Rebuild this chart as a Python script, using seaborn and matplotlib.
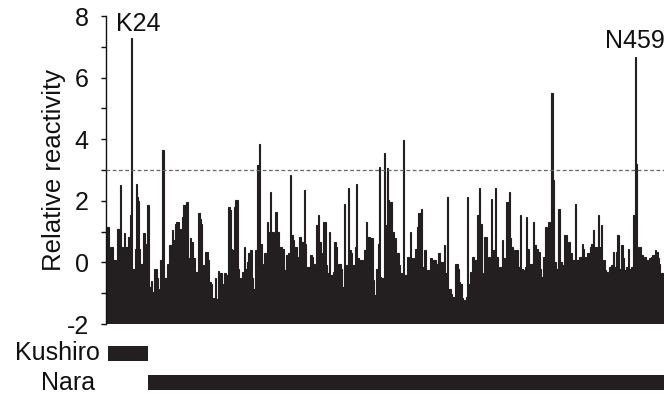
import matplotlib
matplotlib.use("Agg")
import matplotlib.pyplot as plt
import pandas as pd
import seaborn as sns
from matplotlib.ticker import MultipleLocator

# Relative reactivity per residue (residue 1 onward)
reactivity = [
    0.34, 0.34, 1.15, 1.15, 0.34, 0.50, 0.50, 0.07, 0.07, 0.07,
    0.05, 1.10, 1.10, 2.50, 0.50, 0.50, 0.30, 0.94, 0.50, 0.50,
    0.83, 0.83, 1.53, 7.30, -0.20, -0.20, 0.45, 2.56, 2.13, 2.00,
    0.45, -0.04, -0.04, 0.94, 0.94, 0.61, -0.15, 1.86, -0.79, -0.79,
    -0.60, -0.96, -0.96, -0.20, -0.20, -0.50, -0.85, -0.90, 0.07, 0.07,
    3.64, -0.52, -0.52, -0.50, -0.04, -0.04, 0.56, 0.56, 1.05, 0.72,
    0.72, 1.26, 1.32, 1.32, 0.50, 1.10, 1.10, 1.48, 1.86, 1.86,
    1.96, 1.96, 0.13, 0.13, 0.78, 0.67, 0.13, 0.13, -0.31, -0.31,
    -0.31, 1.59, 1.40, 1.26, -0.09, -0.09, -0.15, 0.34, 0.34, 0.07,
    -0.63, -0.63, -0.69, -1.17, -1.17, -0.52, -1.20, -1.20, -0.28, -0.36,
    -0.36, -0.96, -0.69, -0.36, -0.36, -0.42, -0.42, 1.80, 1.70, 0.45,
    0.40, 0.40, 1.80, 2.02, 2.02, -0.20, -0.52, -0.52, -0.58, -0.30,
    0.50, -0.20, -0.20, 0.02, 0.29, 0.29, 0.40, -0.52, -0.85, -0.85,
    0.40, 0.40, 3.15, 3.86, 0.61, 0.61, -0.04, -0.15, 0.29, 0.29,
    1.32, 0.99, 0.99, 2.29, 0.99, 0.99, 0.34, 1.64, 1.64, 0.99,
    0.99, 0.50, 0.50, 0.34, 0.45, -0.25, -0.25, 0.23, 0.29, 0.29,
    2.83, 0.88, 0.88, 0.72, 0.50, 0.50, -0.15, 0.18, 0.83, 0.83,
    0.67, 0.67, 2.34, 0.61, -0.15, -0.15, -0.15, 0.23, 0.23, 0.18,
    -0.04, -0.04, -0.20, 1.21, 1.53, 0.67, 0.67, -0.04, 0.29, 1.32,
    1.32, -0.09, -0.36, -0.36, 0.99, -0.42, -0.42, -0.31, 0.67, 0.67,
    0.50, -0.25, -0.04, -0.04, -0.20, -0.79, -0.79, 1.91, -0.09, -0.09,
    2.40, 0.40, 0.40, 0.29, -0.09, -0.09, 0.50, 2.56, 0.13, 0.13,
    -0.42, 0.07, 0.07, -0.52, 0.40, 0.40, 1.32, 0.83, 0.83, 0.13,
    0.78, 0.78, -0.58, -1.06, -0.20, -0.20, 0.61, 3.10, -0.47, -0.52,
    -0.52, 3.54, 1.21, 1.21, 3.05, 2.02, 1.96, 1.96, 0.99, 0.99,
    0.07, 0.78, 0.29, 0.29, -0.09, -0.36, -0.36, -0.58, 3.97, -0.42,
    -0.42, 0.18, 0.18, 0.07, 0.99, 0.13, 0.13, 0.07, 0.45, 0.45,
    1.15, 1.59, 1.59, 1.75, -0.15, -0.15, 0.40, 0.40, -0.25, -0.25,
    -0.25, 0.13, 0.13, 0.07, 0.07, 0.07, -0.47, -0.04, 0.29, 0.29,
    0.02, 0.02, 0.02, 0.56, -0.36, -0.36, 2.13, -0.85, -0.85, -1.01,
    -1.12, -1.12, -1.12, -0.04, -0.04, -0.20, -0.63, -0.69, -0.69, -1.17,
    -1.23, -1.23, -1.12, 2.13, -0.69, -0.69, -0.31, 0.18, 0.18, -0.96,
    0.07, 0.07, 1.53, 2.40, 1.26, 1.26, -0.63, -0.36, 0.83, 0.83,
    -0.42, 0.18, 0.18, -0.36, 2.07, 0.40, 0.40, 2.40, 0.18, 0.18,
    -0.36, -0.15, -0.15, 0.72, 0.13, 0.13, 0.07, 1.96, 1.96, 2.29,
    0.78, 0.50, 0.50, -0.04, 0.40, 0.40, 0.40, -0.15, -0.15, 1.53,
    -0.20, -0.25, -0.25, -0.15, 1.48, 0.45, 0.45, -0.04, -0.04, -0.04,
    1.32, 0.56, 0.56, 0.45, 0.34, 0.34, -0.20, -0.47, -0.47, 0.18,
    1.15, 1.15, 0.78, 1.32, 1.32, 1.15, 5.49, 2.67, 0.02, 0.02,
    -0.20, -0.20, 1.75, 0.02, 0.02, -0.09, -0.25, 0.88, 0.88, -0.20,
    0.67, 0.67, 0.02, 0.29, 0.07, 0.07, 1.91, 0.07, 0.07, 0.07,
    0.18, 0.18, 0.61, 0.45, 0.18, 0.18, -0.04, 0.29, 0.29, 0.50,
    0.61, 0.61, 1.05, 0.50, 0.50, 0.07, 1.53, 0.50, 0.50, 1.21,
    0.07, 0.07, -0.25, -0.31, -0.31, -0.58, -0.15, -0.09, -0.09, 0.34,
    -0.15, -0.15, 0.34, 0.88, -0.20, -0.20, 0.56, 0.56, 0.13, -0.25,
    -0.15, -0.15, 0.45, -0.20, -0.20, -0.15, 1.53, 1.53, 6.67, 3.21,
    0.07, 0.50, 0.50, 0.23, 0.23, -0.20, 0.18, 0.18, 0.07, -0.09,
    0.13, 0.13, 0.18, 0.23, 0.23, 0.40, 0.34, 0.34, 0.13, -0.04,
    -0.36, -0.36, -0.36,
]
residues = list(range(1, len(reactivity) + 1))

threshold = 3.0
baseline = -2.0
site_labels = ["K24", "N459"]
site_residues = [24, 459]

domain_names = ["Kushiro", "Nara"]
domain_start = [3.0, 38.3]
domain_end = [38.3, 520.0]

y_major = [-2, 0, 2, 4, 6, 8]

ink = "#231f20"
text_color = "#111111"
fs = 18

sns.set_theme(style="ticks")
plt.rcParams["font.family"] = ["Liberation Sans", "DejaVu Sans"]

W, H = 664, 394
fig = plt.figure(figsize=(W / 100, H / 100), dpi=100)


def axes_px(left, top, right, bottom, **kw):
    return fig.add_axes([left / W, 1 - bottom / H, (right - left) / W, (bottom - top) / H], **kw)


ax = axes_px(106, 16, 664, 324)
df = pd.DataFrame({"residue": residues, "reactivity": reactivity})
sns.barplot(data=df, x="residue", y="reactivity", native_scale=True, width=1.0,
            color=ink, saturation=1, errorbar=None, linewidth=0.8, edgecolor=ink, ax=ax)

# bars rise from the -2 floor of the axis rather than from zero
for bar in ax.patches:
    value = bar.get_y() + bar.get_height()
    bar.set_y(baseline)
    bar.set_height(value - baseline)

ax.axhline(threshold, color="#666666", lw=0.9, ls=(0, (3, 2)), zorder=3)

# site labels: the near-edge one is right-anchored so it stays inside the figure
label_offsets = [(-16, 7, "left"), (29, 9, "right")]
for name, res, (dx, dy, ha) in zip(site_labels, site_residues, label_offsets):
    ax.annotate(name, xy=(res, reactivity[res - 1]), xytext=(dx, dy),
                textcoords="offset pixels", ha=ha, va="baseline", fontsize=fs,
                color=text_color, annotation_clip=False)

ax.set_ylim(baseline, 8)
ax.set_yticks(y_major)
ax.set_yticklabels([str(v) for v in y_major])
ax.yaxis.set_minor_locator(MultipleLocator(1))
ax.tick_params(axis="y", which="both", direction="out", length=3.5, width=1, color=text_color,
               labelsize=fs, pad=9, labelcolor=text_color)
ax.set_xticks([])
ax.set_xlabel("")
ax.set_ylabel("Relative reactivity", fontsize=18.5, labelpad=0, color=text_color)
for side in ("top", "right", "bottom"):
    ax.spines[side].set_visible(False)
ax.spines["left"].set_linewidth(1.0)
ax.spines["left"].set_color(text_color)

# domain map under the profile
dax = axes_px(106, 339, 664, 397, sharex=ax)
dax.barh([0, 1], [e - s for s, e in zip(domain_start, domain_end)], left=domain_start,
         height=0.55, color=ink, linewidth=0)
dax.set_ylim(1.5, -0.5)
dax.axis("off")
for i, (name, shift) in enumerate(zip(domain_names, [-6, -11])):
    dax.annotate(name, xy=(0, i), xycoords=("axes fraction", "data"), xytext=(shift, 0),
                 textcoords="offset pixels", ha="right", va="center", fontsize=fs,
                 color=text_color, annotation_clip=False)

ax.set_xlim(1.7, 1.7 + 558 / 1.1577)

fig.savefig("out.png", dpi=100)
